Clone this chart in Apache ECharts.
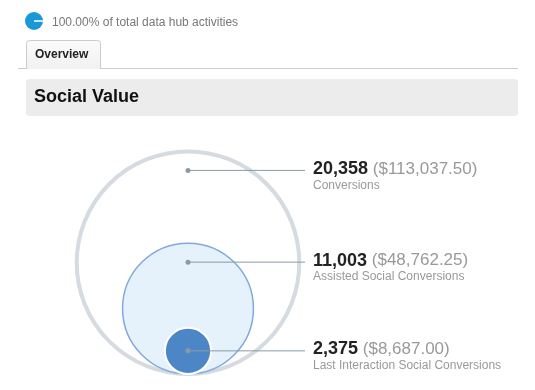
<!DOCTYPE html>
<html>
<head>
<meta charset="utf-8">
<style>
html,body{margin:0;padding:0;background:#fff;}
#chart{width:535px;height:390px;}
</style>
<script src="https://cdn.jsdelivr.net/npm/echarts@6/dist/echarts.min.js"></script>
</head>
<body>
<div id="chart"></div>
<script>
const categories = ['Conversions', 'Assisted Social Conversions', 'Last Interaction Social Conversions'];
const conversions = [20358, 11003, 2375];
const conversionValues = [113037.50, 48762.25, 8687.00];
const shareText = '100.00% of total data hub activities';
const tabLabel = 'Overview';
const panelTitle = 'Social Value';

const FONT = '"Liberation Sans", Arial, Helvetica, sans-serif';
const circleStyles = [
  { fill: 'rgba(255,255,255,0)', stroke: '#d5dbe0', lineWidth: 4 },
  { fill: '#e5f2fb', stroke: '#83a9da', lineWidth: 1.5 },
  { fill: '#4d86c6', stroke: '#ffffff', lineWidth: 2 }
];
const baseDiameter = 23;
const fmtInt = new Intl.NumberFormat('en-US');
const fmtMoney = new Intl.NumberFormat('en-US', { minimumFractionDigits: 2, maximumFractionDigits: 2 });

const chart = echarts.init(document.getElementById('chart'), null, { renderer: 'canvas' });

chart.setOption({
  animation: false,
  backgroundColor: '#ffffff',
  grid: { left: 88, top: 174, width: 200, height: 200, show: false },
  xAxis: { type: 'category', data: [panelTitle], show: false },
  yAxis: { type: 'value', min: 0, max: 20400, show: false },
  graphic: [
    { type: 'circle', shape: { cx: 34, cy: 21, r: 9 }, style: { fill: '#1a98d5' } },
    { type: 'line', shape: { x1: 34, y1: 21, x2: 43, y2: 21 }, style: { stroke: '#ffffff', lineWidth: 1.5 } },
    { type: 'text', x: 52, y: 22.5, style: { text: shareText, font: '12px ' + FONT, fill: '#777777', verticalAlign: 'middle' } },
    { type: 'rect', shape: { x: 26.5, y: 40.5, width: 74, height: 28, r: [3, 3, 0, 0] },
      style: { fill: new echarts.graphic.LinearGradient(0, 0, 0, 1, [{ offset: 0, color: '#fbfbfb' }, { offset: 1, color: '#f1f1f1' }]), stroke: '#cccccc', lineWidth: 1 } },
    { type: 'line', shape: { x1: 18, y1: 68.5, x2: 518, y2: 68.5 }, style: { stroke: '#cccccc', lineWidth: 1 } },
    { type: 'rect', shape: { x: 27, y: 68, width: 73, height: 1 }, style: { fill: '#f1f1f1' } },
    { type: 'text', x: 35, y: 54.5, style: { text: tabLabel, font: 'bold 12px ' + FONT, fill: '#222222', verticalAlign: 'middle' } },
    { type: 'rect', shape: { x: 26, y: 79, width: 492, height: 37, r: 3 }, style: { fill: '#ececec' } },
    { type: 'text', x: 34, y: 97, style: { text: panelTitle, font: 'bold 18px ' + FONT, fill: '#111111', verticalAlign: 'middle' } }
  ],
  series: [{
    type: 'custom',
    coordinateSystem: 'cartesian2d',
    data: conversions.map((v, i) => [0, v, i]),
    renderItem: function (params, api) {
      const i = params.dataIndex;
      const base = api.coord([api.value(0), 0]);
      const r = (baseDiameter + api.size([0, api.value(1)])[1]) / 2;
      const cx = base[0];
      const cy = base[1] - r;
      const dotY = r < 30 ? cy : cy - r + 19;
      const tx = cx + 125;
      const s = circleStyles[i];
      return {
        type: 'group',
        children: [
          { type: 'circle', shape: { cx: cx, cy: cy, r: r }, style: { fill: s.fill, stroke: s.stroke, lineWidth: s.lineWidth }, z2: i * 10 },
          { type: 'line', shape: { x1: cx, y1: dotY, x2: tx - 8, y2: dotY }, style: { stroke: '#8a9aa8', lineWidth: 1 }, z2: i * 10 + 2 },
          { type: 'circle', shape: { cx: cx, cy: dotY, r: 2.5 }, style: { fill: '#8d99a3' }, z2: i * 10 + 3 },
          { type: 'text', z2: 50,
            style: {
              x: tx, y: dotY - 1.5, verticalAlign: 'middle', align: 'left',
              text: '{n|' + fmtInt.format(conversions[i]) + '} {m|($' + fmtMoney.format(conversionValues[i]) + ')}',
              rich: {
                n: { font: 'bold 18px ' + FONT, fill: '#222222' },
                m: { font: '17px ' + FONT, fill: '#999999' }
              },
              font: '17px ' + FONT, fill: '#999999'
            } },
          { type: 'text', z2: 50,
            style: { x: tx, y: dotY + 14.8, verticalAlign: 'middle', align: 'left', text: categories[i], font: '12px ' + FONT, fill: '#999999' } }
        ]
      };
    }
  }]
});
</script>
</body>
</html>
